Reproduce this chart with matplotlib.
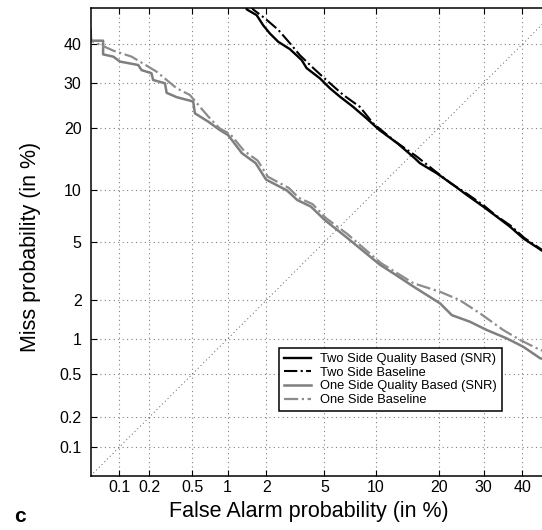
import numpy as np
import matplotlib
matplotlib.use("Agg")
import matplotlib.pyplot as plt
from matplotlib.ticker import FixedLocator, FixedFormatter, NullLocator
from statistics import NormalDist

plt.rcParams['font.family'] = ['Liberation Sans', 'DejaVu Sans']

# curvas DET (en %)
fa_two_q = [1.38, 1.42, 1.69, 1.89, 2.12, 2.44, 2.95, 3.55, 3.83, 4.68, 5.40, 6.23, 7.45, 8.89,
            10.4, 12.9, 15.6, 16.5, 19.6, 23.0, 26.0, 29.9, 33.3, 36.7, 40.3, 45.5, 50]
miss_two_q = [51, 49.7, 48.1, 45.3, 43.0, 40.7, 38.7, 35.8, 33.7, 31.1, 28.7, 26.7, 24.4, 21.9,
              19.6, 17.1, 14.6, 13.8, 12.3, 10.7, 9.45, 8.14, 7.12, 6.22, 5.27, 4.40, 3.9]

fa_two_b = [1.50, 1.59, 1.95, 2.44, 2.95, 3.45, 4.24, 5.27, 6.52, 8.14, 9.64, 12.6, 15.9, 19.3,
            22.5, 26.3, 30.2, 33.0, 36.9, 40.6, 45.5, 50]
miss_two_b = [51, 49.7, 47.2, 44.0, 40.3, 37.1, 33.7, 30.3, 27.1, 24.4, 20.9, 17.4, 14.9, 12.6,
              10.9, 9.5, 8.2, 7.25, 6.3, 5.3, 4.45, 3.95]

fa_one_q = [0.0499, 0.0505, 0.068, 0.068, 0.087, 0.102, 0.156, 0.168, 0.21, 0.218, 0.282, 0.293,
            0.362, 0.51, 0.528, 0.69, 0.86, 1.01, 1.30, 1.66, 1.99, 2.81, 3.31, 4.09, 5.02, 6.74,
            10.5, 12.8, 15.4, 20.3, 22.7, 26.7, 30.7, 35.8, 40.3, 44.9, 50]
miss_one_q = [44, 41.0, 41.0, 37.3, 36.7, 35.4, 34.5, 33.2, 32.4, 30.7, 29.9, 27.6,
              26.6, 25.6, 23.0, 21.25, 19.6, 18.6, 15.4, 13.8, 11.4, 10.0, 8.87, 8.14, 6.81, 5.40,
              3.55, 3.0, 2.51, 1.89, 1.54, 1.37, 1.18, 1.01, 0.86, 0.69, 0.62]

fa_one_b = [0.0499, 0.0505, 0.087, 0.134, 0.235, 0.362, 0.477, 0.69, 0.86, 1.05, 1.35, 1.72, 2.05,
            2.9, 3.4, 4.2, 5.1, 6.9, 10.6, 15.4, 20.3, 24.4, 29.1, 34.9, 39.4, 44.9, 50]
miss_one_b = [44, 41.0, 38.3, 36.7, 32.8, 28.7, 27.1, 22.3, 19.9, 18.8, 15.8, 14.2, 11.8,
              10.3, 9.1, 8.4, 7.0, 5.6, 3.65, 2.65, 2.30, 2.00, 1.59, 1.18, 0.98, 0.81, 0.74]

xticks = [0.1, 0.2, 0.5, 1, 2, 5, 10, 20, 30, 40]
xlabels = ['0.1', '0.2', '0.5', '1', '2', '5', '10', '20', '30', '40']
yticks = [0.1, 0.2, 0.5, 1, 2, 5, 10, 20, 30, 40]
ylabels = ['0.1', '0.2', '0.5', '1', '2', '5', '10', '20', '30', '40']

_nd = NormalDist()
_ppf = np.vectorize(_nd.inv_cdf, otypes=[float])
_cdf = np.vectorize(_nd.cdf, otypes=[float])

def adelante(p):
    q = np.clip(np.asarray(p, dtype=float) / 100.0, 1e-9, 1 - 1e-9)
    return _ppf(q)

def atras(z):
    return _cdf(np.asarray(z, dtype=float)) * 100.0

fig = plt.figure(figsize=(5.42, 5.30), dpi=100)
ax = fig.add_axes([0.1673, 0.1023, 0.8626, 0.8819])
ax.set_xscale('function', functions=(adelante, atras))
ax.set_yscale('function', functions=(adelante, atras))
ax.set_xlim(0.05, 50)
ax.set_ylim(0.05, 50)

gris = '#7f7f7f'
ax.plot([0.05, 50], [0.05, 50], color='#555555', lw=0.7, ls=(0, (1, 3)))
ax.plot(fa_two_q, miss_two_q, color='black', lw=1.7, label='Two Side Quality Based (SNR)')
ax.plot(fa_two_b, miss_two_b, color='black', lw=1.5, ls='-.', label='Two Side Baseline')
ax.plot(fa_one_q, miss_one_q, color=gris, lw=1.8, label='One Side Quality Based (SNR)')
ax.plot(fa_one_b, miss_one_b, color='#8c8c8c', lw=1.6, ls='-.', label='One Side Baseline')

ax.xaxis.set_major_locator(FixedLocator(xticks))
ax.xaxis.set_major_formatter(FixedFormatter(xlabels))
ax.yaxis.set_major_locator(FixedLocator(yticks))
ax.yaxis.set_major_formatter(FixedFormatter(ylabels))
ax.xaxis.set_minor_locator(NullLocator())
ax.yaxis.set_minor_locator(NullLocator())
ax.grid(True, color='#808080', lw=0.8, ls=(0, (1, 3)))
ax.tick_params(direction='in', length=4, width=0.8, top=True, right=True, labelsize=11.5)
ax.tick_params(axis='x', pad=3)
ax.tick_params(axis='y', pad=6.5)
for s in ax.spines.values():
    s.set_linewidth(1.1)

leg = ax.legend(loc='upper left', bbox_to_anchor=(279.3 / 542, 1 - 348.3 / 530),
                bbox_transform=fig.transFigure, borderaxespad=0, fontsize=9.3,
                labelspacing=0.12, handlelength=2.1, handletextpad=0.7,
                borderpad=0.38, fancybox=False, framealpha=1)
leg.get_frame().set_edgecolor('black')
leg.get_frame().set_linewidth(1.1)

fig.text(309 / 542, 1 - 511 / 530, 'False Alarm probability (in %)', ha='center', va='center',
         fontsize=15.5)
fig.text(31 / 542, 1 - 247.4 / 530, 'Miss probability (in %)', ha='center', va='center',
         rotation=90, fontsize=15.5)
fig.text(14 / 542, 1 - 521.7 / 530, 'c', ha='left', va='baseline', fontsize=15, weight='bold')

fig.savefig('out.png', dpi=100)
